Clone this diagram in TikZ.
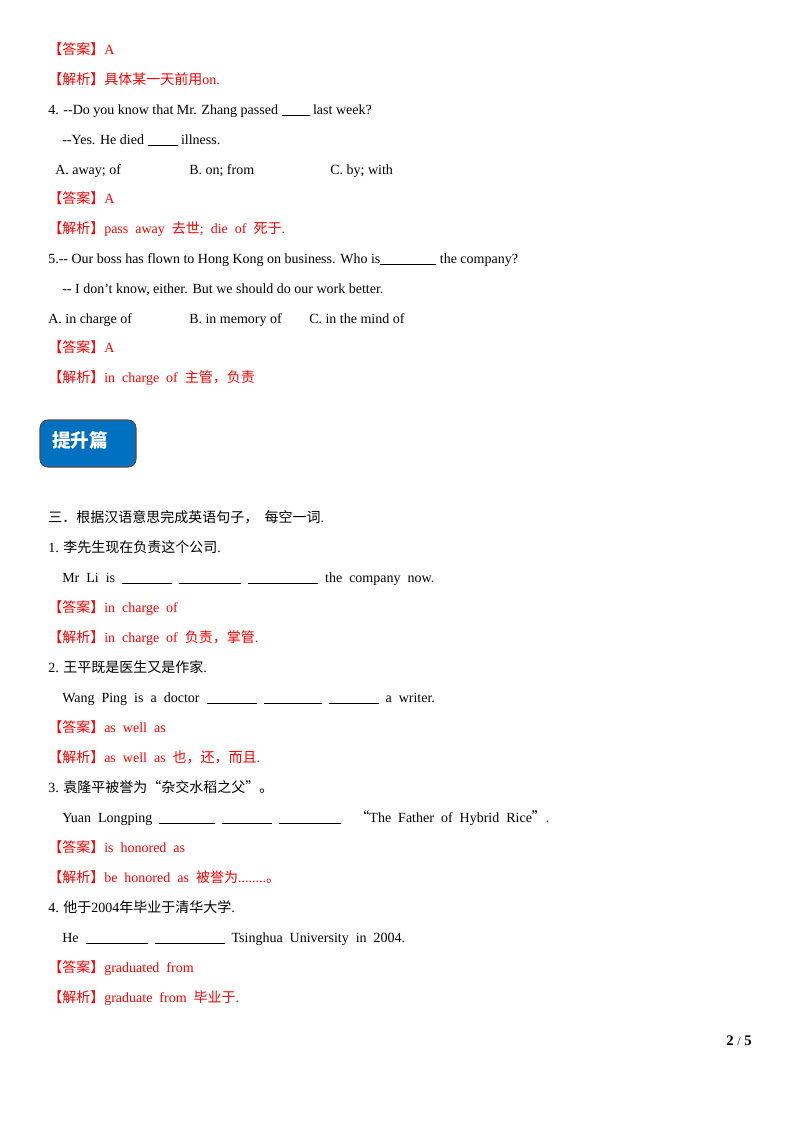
\documentclass[tikz,border=0pt]{standalone}
\usepackage{fontspec}
\setmainfont{Liberation Serif}
\newfontfamily\zh{Noto Sans CJK SC}
\definecolor{ans}{RGB}{255,0,0}
\definecolor{boxblue}{RGB}{0,112,192}
\newcommand{\bl}[1]{\rule[-1.5pt]{\dimexpr #1pt*3/4\relax}{0.5pt}}
\begin{document}
\begin{tikzpicture}[x=0.75pt,y=-0.75pt,
  t/.style={anchor=base west,inner sep=0pt,font=\fontsize{10.5pt}{12pt}\selectfont},
  r/.style={t,text=ans}]
\useasboundingbox (0,0) rectangle (800,1132);
\node[r] (l1) at (48,54) {{\zh 【答案】}A};
\node[r] (l2) at (48,84) {{\zh 【解析】具体某一天前用}on.};
\node[t] (l3) at (48,114) {4. -{}-Do you know that Mr. Zhang passed \bl{28} last week?};
\node[t] (l4) at (62,144) {-{}-Yes. He died \bl{30} illness.};
\node[t] (l5a) at (55,174) {A. away; of};
\node[t] (l5b) at (189,174) {B. on; from};
\node[t] (l5c) at (330,174) {C. by; with};
\node[r] (l6) at (48,203) {{\zh 【答案】}A};
\node[r] (l7) at (48,233) {{\zh 【解析】}pass\ \ away\ \ {\zh 去世};\ \ die\ \ of\ \ {\zh 死于}.};
\node[t] (l8) at (48,263) {5.-{}- Our boss has flown to Hong Kong on business. Who is\bl{56} the company?};
\node[t] (l9) at (62,293) {-{}- I don't know, either. But we should do our work better.};
\node[t] (l10a) at (48,323) {A. in charge of};
\node[t] (l10b) at (189,323) {B. in memory of};
\node[t] (l10c) at (309,323) {C. in the mind of};
\node[r] (l11) at (48,352) {{\zh 【答案】}A};
\node[r] (l12) at (48,382) {{\zh 【解析】}in\ \ charge\ \ of\ \ {\zh 主管，负责}};
\draw[rounded corners=6pt,fill=boxblue,draw=black!70,line width=0.8pt] (40,420) rectangle (136,467);
\node[anchor=west,inner sep=0pt,text=white,font=\zh\bfseries\fontsize{14pt}{16pt}\selectfont] (box) at (52,440) {提升篇};
\node[t] (m1) at (48,522) {{\zh 三．根据汉语意思完成英语句子，\ \ 每空一词}.};
\node[t] (m2) at (48,552) {1. {\zh 李先生现在负责这个公司}.};
\node[t] (m3) at (62,582) {Mr\ \ Li\ \ is\ \ \bl{50}\ \ \bl{62}\ \ \bl{70}\ \ the\ \ company\ \ now.};
\node[r] (m4) at (48,612) {{\zh 【答案】}in\ \ charge\ \ of};
\node[r] (m5) at (48,642) {{\zh 【解析】}in\ \ charge\ \ of\ \ {\zh 负责，掌管}.};
\node[t] (m6) at (48,672) {2. {\zh 王平既是医生又是作家}.};
\node[t] (m7) at (62,702) {Wang\ \ Ping\ \ is\ \ a\ \ doctor\ \ \bl{50}\ \ \bl{58}\ \ \bl{50}\ \ a\ \ writer.};
\node[r] (m8) at (48,732) {{\zh 【答案】}as\ \ well\ \ as};
\node[r] (m9) at (48,762) {{\zh 【解析】}as\ \ well\ \ as\ \ {\zh 也，还，而且}.};
\node[t] (m10) at (48,792) {3. {\zh 袁隆平被誉为“杂交水稻之父”。}};
\node[t] (m11) at (62,822) {Yuan\ \ Longping\ \ \bl{56}\ \ \bl{50}\ \ \bl{62}\ \ \ \ {\zh “}The\ \ Father\ \ of\ \ Hybrid\ \ Rice{\zh ”}.};
\node[r] (m12) at (48,852) {{\zh 【答案】}is\ \ honored\ \ as};
\node[r] (m13) at (48,882) {{\zh 【解析】}be\ \ honored\ \ as\ \ {\zh 被誉为}........{\zh 。}};
\node[t] (m14) at (48,912) {4. {\zh 他于}2004{\zh 年毕业于清华大学}.};
\node[t] (m15) at (62,942) {He\ \ \bl{62}\ \ \bl{70}\ \ Tsinghua\ \ University\ \ in\ \ 2004.};
\node[r] (m16) at (48,972) {{\zh 【答案】}graduated\ \ from};
\node[r] (m17) at (48,1002) {{\zh 【解析】}graduate\ \ from\ \ {\zh 毕业于}.};
\node[anchor=base east,inner sep=0pt,font=\bfseries\fontsize{11pt}{12pt}\selectfont] (pg) at (752,1045) {2 {\mdseries\small /} 5};
\end{tikzpicture}
\end{document}
